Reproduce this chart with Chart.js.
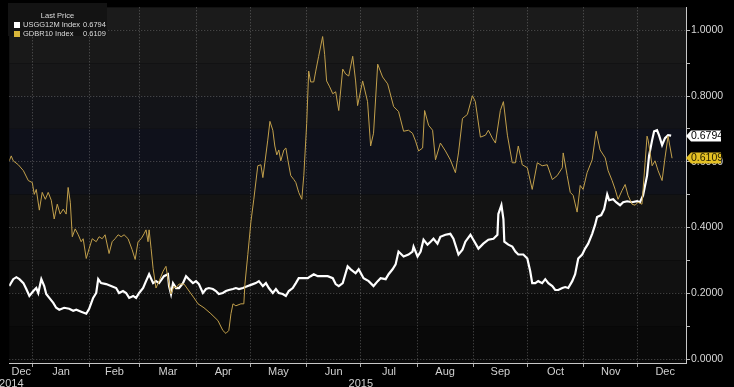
<!DOCTYPE html>
<html>
<head>
<meta charset="utf-8">
<script src="https://cdn.jsdelivr.net/npm/chart.js@4.4.1/dist/chart.umd.min.js"></script>
<style>
  html, body { margin: 0; padding: 0; background: #000; }
  #wrap { position: relative; width: 734px; height: 387px; }
  #legend { position: absolute; left: 8px; top: 3px; width: 99px; height: 33px; background: #131313;
            font: 7.5px "Liberation Sans", Arial, sans-serif; color: #ddd; }
  #legend .title { position: absolute; left: 0; width: 99px; top: 8px; text-align: center; }
  #legend .row { position: absolute; left: 6px; height: 10px; line-height: 10px; white-space: nowrap; }
  #legend .sw { position: absolute; left: 0; top: 2px; width: 6px; height: 6px; }
  #legend .nm { position: absolute; left: 9px; }
  #legend .vl { position: absolute; left: 69px; }
</style>
</head>
<body>
<div id="wrap">
  <canvas id="chart" width="734" height="387"></canvas>
  <div id="legend">
    <div class="title">Last Price</div>
    <div class="row" style="top:17px"><span class="sw" style="background:#fff"></span><span class="nm">USGG12M Index</span><span class="vl" id="v1"></span></div>
    <div class="row" style="top:26px"><span class="sw" style="background:#d8b63a"></span><span class="nm">GDBR10 Index</span><span class="vl" id="v2"></span></div>
  </div>
</div>
<script>
// Ngày tính từ 01/01/2015 (ngày 0)
const monthNames = ['Jan','Feb','Mar','Apr','May','Jun','Jul','Aug','Sep','Oct','Nov','Dec'];
const monthStarts = [0, 31, 59, 90, 120, 151, 181, 212, 243, 273, 304, 334];
const monthMids = [15.5, 45, 74.5, 105, 135.5, 166, 196.5, 227.5, 258, 288.5, 319, 349];
const yTickValues = [0, 0.1, 0.2, 0.3, 0.4, 0.5, 0.6, 0.7, 0.8, 0.9, 1.0];

// USGG12M Index (trắng)
const usggDays = [-13.1,-10.9,-9.2,-7.5,-5.3,-3.7,-2.0,0.2,1.8,2.9,4.6,6.2,7.3,9.0,11.2,12.8,14.5,17.2,20.0,22.2,23.9,26.6,29.4,31.0,33.2,34.9,36.0,37.6,40.4,43.1,45.9,47.5,49.7,51.4,53.1,55.3,56.9,58.6,60.8,62.4,64.1,66.3,67.9,69.6,72.3,74.5,75.1,76.2,77.3,79.0,80.6,82.8,84.5,86.1,88.3,90.0,91.6,93.8,95.5,97.1,99.3,101.0,102.6,104.8,106.5,108.1,110.4,112.0,113.7,115.9,118.6,121.4,123.0,124.7,126.9,128.6,130.2,132.4,134.1,135.7,137.9,139.6,141.2,143.4,145.1,146.7,148.9,151.7,153.3,155.0,157.2,159.9,162.7,165.5,167.1,168.8,171.0,172.6,173.7,175.4,178.1,179.8,182.5,185.3,188.0,190.3,191.9,194.7,196.3,198.5,200.2,201.8,204.6,207.3,209.5,210.1,212.3,214.0,215.6,217.8,219.5,221.1,223.3,224.9,227.7,230.4,232.1,234.9,237.1,238.7,241.5,243.1,245.9,248.6,251.4,254.2,256.4,256.9,258.6,259.7,260.2,262.4,264.6,266.3,267.9,270.7,272.9,274.5,275.6,277.3,278.9,281.1,282.8,284.5,286.7,288.3,290.0,292.2,293.8,295.5,297.7,299.3,301.0,303.2,304.8,306.5,308.7,310.3,311.4,313.7,315.3,317.0,318.1,320.3,321.9,324.1,325.8,328.0,330.7,333.5,335.1,336.8,339.0,340.1,341.8,342.9,344.5,345.6,347.3,348.9,350.6,352.3];
const usggVals = [0.222,0.243,0.249,0.243,0.231,0.213,0.192,0.207,0.216,0.201,0.243,0.222,0.198,0.186,0.171,0.156,0.150,0.156,0.153,0.147,0.150,0.144,0.138,0.153,0.186,0.201,0.243,0.231,0.228,0.222,0.216,0.201,0.207,0.201,0.186,0.192,0.186,0.201,0.216,0.237,0.258,0.231,0.237,0.231,0.252,0.258,0.222,0.198,0.231,0.216,0.216,0.231,0.252,0.243,0.231,0.237,0.228,0.201,0.213,0.216,0.213,0.207,0.198,0.201,0.207,0.210,0.213,0.216,0.213,0.216,0.222,0.228,0.231,0.237,0.222,0.231,0.216,0.201,0.213,0.201,0.198,0.192,0.207,0.216,0.231,0.246,0.246,0.246,0.252,0.258,0.252,0.252,0.252,0.246,0.228,0.222,0.231,0.261,0.282,0.273,0.261,0.273,0.246,0.237,0.222,0.237,0.246,0.243,0.258,0.273,0.288,0.327,0.312,0.318,0.327,0.342,0.312,0.327,0.363,0.348,0.357,0.366,0.351,0.372,0.378,0.381,0.366,0.318,0.333,0.357,0.378,0.363,0.336,0.351,0.363,0.366,0.378,0.441,0.468,0.426,0.357,0.348,0.342,0.327,0.318,0.318,0.306,0.267,0.231,0.231,0.237,0.231,0.243,0.231,0.222,0.210,0.210,0.216,0.219,0.216,0.237,0.258,0.306,0.318,0.336,0.351,0.381,0.408,0.432,0.438,0.456,0.501,0.483,0.486,0.477,0.468,0.477,0.480,0.477,0.480,0.477,0.498,0.558,0.618,0.666,0.693,0.696,0.681,0.651,0.672,0.681,0.6794];

// GDBR10 Index (vàng)
const gdbrDays = [-13.1,-12.0,-10.9,-8.1,-5.3,-2.6,-0.4,0.7,1.8,3.5,5.1,6.8,8.4,10.1,11.7,13.4,15.0,16.7,18.3,19.4,20.6,21.7,23.3,25.0,26.6,27.7,29.4,31.0,32.7,34.9,36.5,38.2,39.8,42.0,43.7,45.3,47.0,48.7,50.3,52.5,54.7,56.4,58.0,59.7,61.3,62.4,63.5,64.1,65.2,66.3,67.9,69.6,71.8,73.4,74.5,76.2,77.9,78.9,80.6,83.4,88.9,91.1,94.4,98.2,102.1,104.8,106.5,108.1,109.3,110.4,112.0,114.8,116.4,117.0,118.6,120.3,121.9,124.1,125.8,126.9,128.0,129.6,130.8,132.4,133.5,134.6,135.7,136.8,138.5,139.6,140.7,142.3,144.0,145.1,146.7,148.4,149.5,151.1,152.2,153.3,155.0,156.1,157.7,159.9,161.0,162.1,163.8,165.5,167.1,168.8,171.0,172.6,174.3,176.5,178.1,179.2,182.0,184.7,186.4,188.0,190.3,193.0,195.8,199.1,201.8,204.6,207.3,209.5,211.2,212.9,215.1,216.2,218.4,220.6,222.2,224.9,227.7,230.4,233.2,234.9,237.1,239.8,242.6,244.2,247.0,249.8,251.4,253.6,255.3,258.0,259.7,261.9,264.6,266.3,267.9,270.1,272.9,275.6,278.4,281.1,283.9,286.7,289.4,292.2,292.7,294.9,296.6,298.2,300.4,302.1,303.7,305.9,308.7,310.9,313.1,315.9,317.5,319.7,321.4,323.0,325.2,326.9,328.5,330.7,332.4,334.0,336.2,337.9,339.0,339.6,341.8,343.4,345.1,347.3,348.9,350.6,352.8];
const gdbrVals = [0.603,0.618,0.603,0.591,0.573,0.543,0.537,0.501,0.516,0.453,0.507,0.486,0.507,0.483,0.426,0.471,0.441,0.456,0.441,0.522,0.477,0.372,0.396,0.378,0.357,0.366,0.306,0.336,0.366,0.357,0.372,0.366,0.378,0.321,0.357,0.366,0.378,0.372,0.378,0.366,0.333,0.303,0.357,0.366,0.381,0.393,0.357,0.393,0.336,0.276,0.216,0.237,0.267,0.282,0.246,0.198,0.222,0.216,0.228,0.228,0.186,0.168,0.156,0.138,0.117,0.087,0.078,0.087,0.138,0.168,0.162,0.168,0.168,0.228,0.318,0.417,0.486,0.588,0.591,0.552,0.597,0.666,0.723,0.696,0.648,0.621,0.636,0.603,0.636,0.642,0.606,0.558,0.546,0.537,0.507,0.486,0.558,0.717,0.876,0.843,0.843,0.876,0.921,0.981,0.927,0.846,0.828,0.807,0.813,0.756,0.882,0.867,0.861,0.921,0.846,0.771,0.846,0.783,0.648,0.687,0.897,0.858,0.837,0.768,0.753,0.693,0.696,0.687,0.663,0.633,0.642,0.756,0.711,0.696,0.606,0.657,0.633,0.606,0.567,0.627,0.732,0.744,0.801,0.783,0.675,0.681,0.696,0.672,0.657,0.756,0.783,0.681,0.597,0.597,0.648,0.591,0.582,0.516,0.597,0.588,0.591,0.546,0.558,0.582,0.627,0.558,0.507,0.498,0.447,0.528,0.516,0.567,0.606,0.693,0.636,0.612,0.573,0.543,0.516,0.486,0.513,0.531,0.498,0.471,0.468,0.477,0.471,0.597,0.678,0.666,0.588,0.603,0.573,0.543,0.612,0.678,0.6109];

const WHITE = '#ffffff';
const GOLD = '#c2a04c';
const GOLD_TAG = '#e4c024';

// Dải nền tối theo từng 0.1 (từ trên xuống)
const bandColors = ['#1b1b1b','#191919','#171718','#131418','#0f111b','#10121a','#131313','#141414','#111111','#0c0c0c','#090909'];

document.getElementById('v1').textContent = usggVals[usggVals.length - 1].toFixed(4);
document.getElementById('v2').textContent = gdbrVals[gdbrVals.length - 1].toFixed(4);

function toPoints(xs, ys) { return xs.map((x, i) => ({ x: x, y: ys[i] })); }

// nhãn trục X: ranh giới tháng + giữa tháng + năm
const xLabels = new Map();
monthStarts.forEach(v => xLabels.set(v, ''));
xLabels.set(181, ['', '2015']);
monthMids.forEach((v, i) => xLabels.set(v, monthNames[i]));
xLabels.set(-6.5, 'Dec');
xLabels.set(-12, ['', '2014']);
const isBoundary = v => monthStarts.includes(v);

const bandPlugin = {
  id: 'bands',
  beforeDraw(chart) {
    const { ctx, chartArea: a, scales: { y } } = chart;
    ctx.save();
    ctx.fillStyle = '#000';
    ctx.fillRect(0, 0, chart.width, chart.height);
    const edges = [y.max, 1.0, 0.9, 0.8, 0.7, 0.6, 0.5, 0.4, 0.3, 0.2, 0.1, y.min];
    for (let i = 0; i < edges.length - 1; i++) {
      const t = y.getPixelForValue(edges[i]), b = y.getPixelForValue(edges[i + 1]);
      ctx.fillStyle = bandColors[i];
      ctx.fillRect(a.left, t, a.right - a.left, b - t);
    }
    ctx.restore();
  }
};

// Nhãn giá cuối ở trục phải
const tagPlugin = {
  id: 'tags',
  afterDraw(chart) {
    const { ctx, chartArea: a, scales: { y } } = chart;
    const tags = [
      { v: usggVals[usggVals.length - 1], bg: WHITE, fg: '#000' },
      { v: gdbrVals[gdbrVals.length - 1], bg: GOLD_TAG, fg: '#2a2200' }
    ];
    ctx.save();
    ctx.font = '10.5px "Liberation Sans", Arial, sans-serif';
    ctx.textBaseline = 'middle';
    tags.forEach(t => {
      const py = Math.round(y.getPixelForValue(t.v));
      const x0 = a.right, h = 11;
      ctx.fillStyle = t.bg;
      ctx.beginPath();
      ctx.moveTo(x0, py);
      ctx.lineTo(x0 + 5, py - h / 2);
      ctx.lineTo(x0 + 35, py - h / 2);
      ctx.lineTo(x0 + 35, py + h / 2);
      ctx.lineTo(x0 + 5, py + h / 2);
      ctx.closePath();
      ctx.fill();
      ctx.fillStyle = t.fg;
      ctx.fillText(t.v.toFixed(4), x0 + 5, py + 0.5);
    });
    ctx.restore();
  }
};

new Chart(document.getElementById('chart'), {
  type: 'line',
  data: {
    datasets: [
      { label: 'GDBR10 Index', data: toPoints(gdbrDays, gdbrVals), borderColor: GOLD, borderWidth: 1, pointRadius: 0, tension: 0 },
      { label: 'USGG12M Index', data: toPoints(usggDays, usggVals), borderColor: WHITE, borderWidth: 2.2, pointRadius: 0, tension: 0 }
    ]
  },
  options: {
    responsive: false,
    animation: false,
    layout: { padding: { left: 8, top: 2, right: 0, bottom: 0 } },
    plugins: { legend: { display: false }, tooltip: { enabled: false } },
    scales: {
      x: {
        type: 'linear', min: -13.1, max: 360.5,
        afterFit: s => { s.height = 24; },
        afterBuildTicks: s => { s.ticks = [...xLabels.keys()].sort((a, b) => a - b).map(v => ({ value: v })); },
        ticks: {
          autoSkip: false, maxRotation: 0, minRotation: 0, padding: -1,
          color: '#d0d0d0', font: { family: '"Liberation Sans", Arial, sans-serif', size: 11, lineHeight: '12px' },
          callback: v => xLabels.get(v)
        },
        grid: {
          color: c => (c.tick && isBoundary(c.tick.value)) ? 'rgba(170,170,170,0.45)' : 'transparent',
          tickColor: c => (c.tick && isBoundary(c.tick.value)) ? '#aaa' : 'transparent',
          tickLength: 4, lineWidth: 1
        },
        border: { color: '#c8c8c8', width: 1, dash: [1, 2] }
      },
      y: {
        position: 'right', min: -0.012, max: 1.07,
        afterFit: s => { s.width = 48; },
        afterBuildTicks: s => { s.ticks = yTickValues.map(v => ({ value: v })); },
        ticks: {
          padding: 1, color: '#d8d8d8',
          font: { family: '"Liberation Sans", Arial, sans-serif', size: 10.5 },
          callback: v => (Math.round(v * 10) % 2 === 0) ? v.toFixed(4) : ''
        },
        grid: {
          color: c => (c.tick && Math.round(c.tick.value * 10) % 2 === 0) ? 'rgba(170,170,170,0.45)' : 'transparent',
          tickColor: '#bbb', tickLength: 4, lineWidth: 1
        },
        border: { color: '#c8c8c8', width: 1, dash: [1, 2] }
      }
    }
  },
  plugins: [bandPlugin, tagPlugin]
});
</script>
</body>
</html>
